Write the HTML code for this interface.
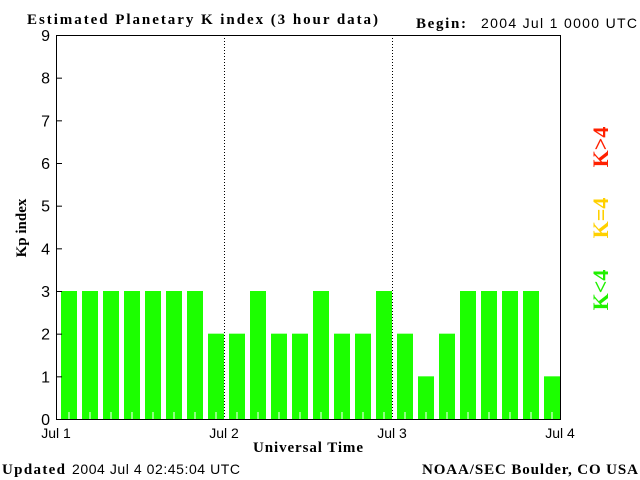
<!DOCTYPE html>
<html><head><meta charset="utf-8"><style>
body{margin:0;background:#fff}
svg{display:block}
text{font-family:"Liberation Sans",sans-serif}
.s{font-family:"Liberation Serif",serif;font-weight:bold}
</style></head><body>
<svg id="c" width="640" height="480">
<text class="s" x="27" y="24" font-size="15" textLength="351" lengthAdjust="spacing">Estimated Planetary K index (3 hour data)</text>
<text class="s" x="416" y="28" font-size="15" textLength="50">Begin:</text>
<text x="481" y="28" font-size="14" textLength="156" lengthAdjust="spacing">2004 Jul 1 0000 UTC</text>
<text class="s" x="26" y="228" font-size="15" transform="rotate(-90 26 228)" text-anchor="middle">Kp index</text>
<text class="s" x="308" y="452" font-size="15" text-anchor="middle" textLength="110">Universal Time</text>
<text class="s" x="2" y="474" font-size="15" textLength="63">Updated</text>
<text x="72" y="474" font-size="14" textLength="168" lengthAdjust="spacing">2004 Jul  4 02:45:04 UTC</text>
<text class="s" x="422" y="474" font-size="15" textLength="216" lengthAdjust="spacing">NOAA/SEC Boulder, CO USA</text>
<text class="s" x="608" y="147" font-size="22" fill="#ff2000" transform="rotate(-90 608 147)" text-anchor="middle">K&gt;4</text>
<text class="s" x="608" y="218" font-size="22" fill="#ffd000" transform="rotate(-90 608 218)" text-anchor="middle">K=4</text>
<text class="s" x="608" y="290" font-size="22" fill="#20f000" transform="rotate(-90 608 290)" text-anchor="middle">K&lt;4</text>
<g id="g"></g>
</svg>
<script>
const kpValues=[3,3,3,3,3,3,3,2,2,3,2,2,3,2,2,3,2,1,2,3,3,3,3,1];
const dayLabels=["Jul 1","Jul 2","Jul 3","Jul 4"];
const yTicks=[0,1,2,3,4,5,6,7,8,9];
const L=56,R=560,T=35,B=419;
const X=i=>L+i*(R-L)/24;
const Y=v=>B-v*(B-T)/9;
const g=document.getElementById('g');
const NS='http://www.w3.org/2000/svg';
function mk(t,a){const e=document.createElementNS(NS,t);for(const k in a)e.setAttribute(k,a[k]);g.appendChild(e);return e;}
kpValues.forEach((v,i)=>{
 const c=v>4?'#ff2000':v==4?'#ffd000':'#1cff00';
 const r=mk('rect',{x:X(i)+5,y:Y(v),width:16,height:B-Y(v),fill:c});
 
 
 const t=mk('line',{x1:X(i)+13,x2:X(i)+13,y1:B-7,y2:B,stroke:'#fff'});
 
 
});
[1,2].forEach(d=>{
 const l=mk('line',{x1:X(d*8)+.5,x2:X(d*8)+.5,y1:T,y2:B,stroke:'#000','stroke-dasharray':'1,2'});
 
 
});
const ax=mk('path',{d:`M${L+.5} ${T+.5}H${R+.5}V${B+.5}H${L+.5}Z`,fill:'none',stroke:'#000'});


yTicks.forEach(v=>{
 mk('line',{x1:L,x2:L+6,y1:Y(v)+.5,y2:Y(v)+.5,stroke:'#000'});
 const t=mk('text',{x:L-6,y:Y(v)+6,'font-size':16,'text-anchor':'end'});
 t.textContent=v;
 
 
});
dayLabels.forEach((s,d)=>{
 const t=mk('text',{x:X(d*8),y:438,'font-size':14,'text-anchor':'middle'});
 t.textContent=s;
 
 
});
</script>
</body></html>
